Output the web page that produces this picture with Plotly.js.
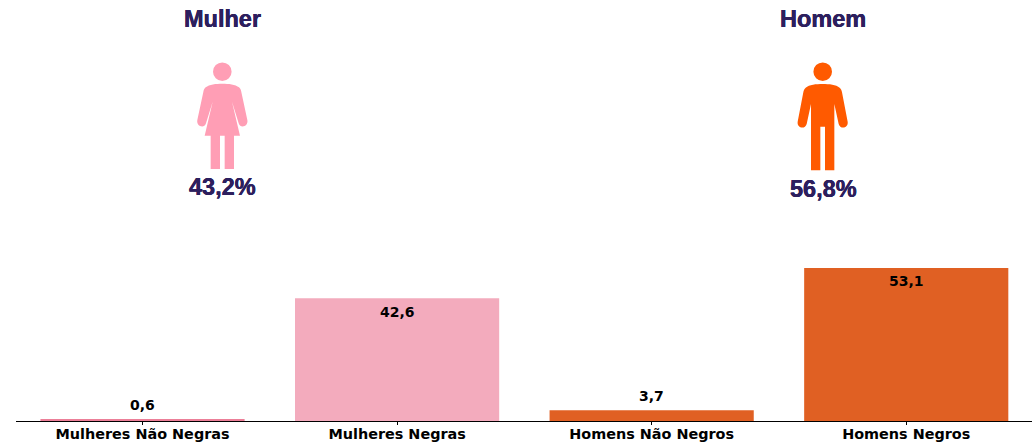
<!DOCTYPE html>
<html>
<head>
<meta charset="utf-8">
<script src="https://cdn.plot.ly/plotly-3.0.1.min.js"></script>
<style>html,body{margin:0;padding:0;background:#fff}#chart{width:1033px;height:443px}</style>
</head>
<body>
<div id="chart"></div>
<script>
const categories = ['Mulheres Não Negras', 'Mulheres Negras', 'Homens Não Negros', 'Homens Negros'];
const values = [0.6, 42.6, 3.7, 53.1];
const valueLabels = ['0,6', '42,6', '3,7', '53,1'];
const labelShift = [14, -14, 14, -13];
const barColors = ['#ec7f98', '#f3abbd', '#e06023', '#e06023'];
const groupTitles = ['Mulher', 'Homem'];
const groupShares = ['43,2%', '56,8%'];

const W = 1033, H = 443;
const M = {l: 16, r: 1, t: 0, b: 22};
const fx = px => (px - M.l) / (W - M.l - M.r);
const fy = py => 1 - (py - M.t) / (H - M.t - M.b);

// Icon outlines, given in a local pixel grid at 3x, placed by an offset.
function iconPath(cmds, ox) {
  return cmds.map(c => c[0] + ' ' + c.slice(1).map((v, i) =>
    (i % 2 === 0 ? fx(ox + v / 3) : fy(v / 3)).toFixed(5)).join(' ')).join(' ') + ' Z';
}
const womanCmds = [
  ['M',157,251],['C',176,251,196,253,207,262],['C',211,266,213,270,214,276],['L',232,360],['C',236,378,212,388,206,370],
  ['L',186,305],['L',210,407],['L',192,407],['L',192,507],['L',164,507],['L',164,407],
  ['L',150,407],['L',150,507],['L',122,507],['L',122,407],['L',104,407],['L',128,305],
  ['L',108,370],['C',102,388,78,378,82,360],['L',100,276],['C',101,270,103,266,107,262],['C',118,253,138,251,157,251]
];
const manCmds = [
  ['M',158,252],['C',178,252,198,254,209,263],['C',213,267,215,271,216,277],['L',233,365],['C',236,384,211,390,206,372],
  ['L',193,312],['L',193,511],['L',165,511],['L',165,380],['L',151,380],['L',151,511],
  ['L',123,511],['L',123,312],['L',110,372],['C',105,390,80,384,83,365],['L',100,277],['C',101,271,103,267,107,263],
  ['C',118,254,138,252,158,252]
];
function head(cx, cy, r, color) {
  return {type: 'circle', xref: 'paper', yref: 'paper', x0: fx(cx - r), x1: fx(cx + r),
          y0: fy(cy + r), y1: fy(cy - r), fillcolor: color, line: {width: 0}};
}
function body(cmds, ox, color) {
  return {type: 'path', xref: 'paper', yref: 'paper', path: iconPath(cmds, ox),
          fillcolor: color, line: {width: 0}};
}
function headline(text, px, py, size) {
  return {text: '<b>' + text + '</b>', xref: 'paper', yref: 'paper', x: fx(px), y: fy(py),
          xanchor: 'center', yanchor: 'middle', showarrow: false,
          font: {family: 'Liberation Sans, Arial, sans-serif', size: size, color: '#2d1f5e',
                 shadow: '0.2px 0 0 #2d1f5e, -0.2px 0 0 #2d1f5e'}};
}
const barLabels = categories.map((c, i) => ({
  text: '<b>' + valueLabels[i] + '</b>', x: c, y: values[i], xref: 'x', yref: 'y',
  xanchor: 'center', yanchor: 'middle', showarrow: false, yshift: labelShift[i],
  font: {family: 'DejaVu Sans, sans-serif', size: 14, color: '#000'}
}));

Plotly.newPlot('chart', [{
  type: 'bar', x: categories, y: values, width: 0.802,
  marker: {color: barColors, line: {width: 0}}, hoverinfo: 'x+y'
}], {
  width: W, height: H, margin: M, showlegend: false,
  paper_bgcolor: '#fff', plot_bgcolor: '#fff',
  xaxis: {type: 'category', range: [-0.497, 3.494], showgrid: false, zeroline: false,
          showline: true, linecolor: '#000', linewidth: 1, ticks: 'outside', ticklen: 3,
          tickcolor: '#000', tickwidth: 1, ticklabelstandoff: -3,
          tickfont: {family: 'DejaVu Sans, sans-serif', size: 14.4, color: '#000', weight: 'bold'}},
  yaxis: {range: [0, 146.2], visible: false, fixedrange: true},
  shapes: [
    head(222.3, 71.7, 9.3, '#ff9eb5'), body(womanCmds, 170, '#ff9eb5'),
    head(822.7, 71.7, 9.3, '#ff5a00'), body(manCmds, 770, '#ff5a00')
  ],
  annotations: barLabels.concat([
    headline(groupTitles[0], 222.5, 19, 23.5), headline(groupTitles[1], 823, 19, 23.5),
    headline(groupShares[0], 222.5, 187, 23.5), headline(groupShares[1], 823.5, 189, 23.5)
  ])
}, {displayModeBar: false, responsive: false});
</script>
</body>
</html>
